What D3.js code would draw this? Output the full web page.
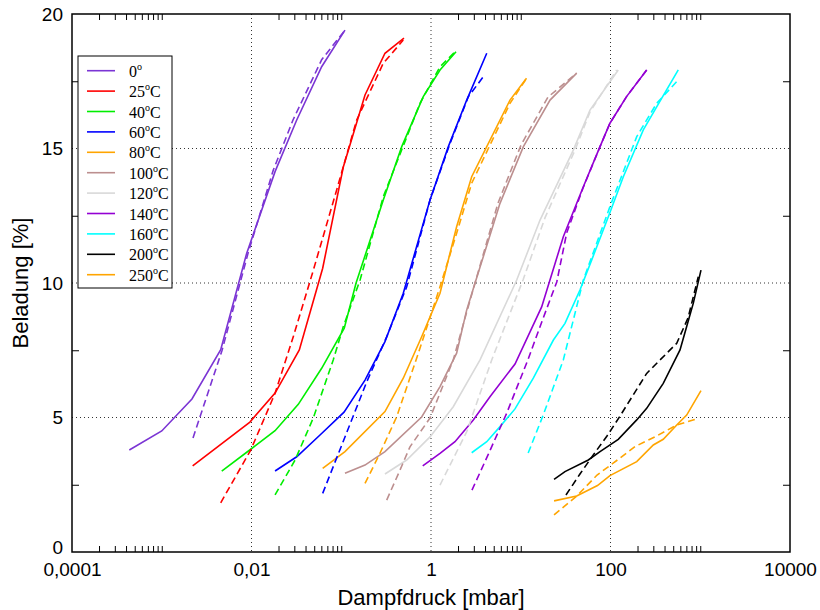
<!DOCTYPE html>
<meta charset="utf-8">
<script src="https://d3js.org/d3.v7.min.js"></script>
<style>
body { margin: 0; background: #fff; }
</style>
<div id="chart"></div>
<script>

// legend labels and colours
var temps = ["0", "25", "40", "60", "80", "100", "120", "140", "160", "200", "250"];
var colors = ["#7b35d4", "#ff0000", "#00ee00", "#0000ff", "#ffa500", "#bc8f8f",
              "#d9d9d9", "#9400d3", "#00ffff", "#000000", "#ffa500"];

// solid curves: [pressure mbar, loading %]
var s0   = [[0.000435,3.79],[0.001,4.5],[0.00217,5.69],[0.00454,7.52],[0.00883,11.1],[0.0183,14.14],[0.0319,16.06],[0.0605,18.04],[0.11,19.4]];
var s25  = [[0.00221,3.2],[0.0096,4.83],[0.0183,5.91],[0.0341,7.51],[0.0621,10.55],[0.1054,14.31],[0.184,16.99],[0.307,18.54],[0.5,19.1]];
var s40  = [[0.00466,3.01],[0.0098,3.82],[0.0183,4.51],[0.0332,5.49],[0.0605,6.83],[0.108,8.32],[0.146,9.99],[0.294,13.09],[0.472,15.07],[0.82,16.93],[1.26,17.92],[1.9,18.6]];
var s60  = [[0.0183,3.01],[0.0319,3.54],[0.058,4.35],[0.1074,5.2],[0.184,6.39],[0.307,7.82],[0.491,9.62],[0.975,13.09],[1.56,15.07],[2.5,16.8],[4.18,18.54]];
var s80  = [[0.0621,3.11],[0.11,3.73],[0.307,5.22],[0.491,6.46],[0.787,8.0],[1.26,9.62],[1.93,12.09],[2.84,13.95],[4.18,15.07],[7.59,16.8],[11.6,17.61]];
var s100 = [[0.11,2.93],[0.184,3.23],[0.307,3.73],[0.787,5.02],[1.26,6.15],[1.93,7.39],[2.5,9.0],[3.09,9.99],[5.87,12.96],[10.7,15.07],[21.2,16.8],[42.0,17.8]];
var s120 = [[0.307,2.9],[0.536,3.42],[0.975,4.28],[1.77,5.4],[3.52,7.14],[9.02,10.11],[16.4,12.34],[38.5,14.94],[59.1,16.43],[122,17.92]];
var s140 = [[0.809,3.2],[1.26,3.67],[1.85,4.1],[2.96,4.91],[4.54,5.77],[8.63,6.99],[17.1,9.11],[29.8,11.72],[49.8,13.58],[76.4,15.07],[98.6,15.94],[151,16.93],[253,17.92]];
var s160 = [[2.84,3.69],[4.18,4.1],[5.87,4.66],[8.63,5.32],[13.8,6.46],[23.1,7.88],[31.1,8.5],[45.7,9.74],[61.8,10.86],[94.6,12.46],[139,13.95],[232,15.69],[327,16.55],[569,17.92]];
var s200 = [[23.5,2.7],[31.1,2.99],[56.6,3.42],[76.4,3.73],[122,4.19],[196,4.91],[253,5.34],[387,6.27],[595,7.51],[706,8.38],[837,9.25],[1019,10.48]];
var s250 = [[23.5,1.9],[42.0,2.08],[71.6,2.47],[98.6,2.84],[196,3.36],[300,3.98],[387,4.19],[547,4.72],[706,5.09],[1019,6.0]];

// dashed curves
var d0   = [[0.00223,4.24],[0.0047,7.5],[0.00914,11.1],[0.0175,14.2],[0.029,16.06],[0.0605,18.3],[0.11,19.4]];
var d25  = [[0.00454,1.83],[0.0098,3.79],[0.0183,5.9],[0.0292,8.0],[0.0489,10.48],[0.0889,13.46],[0.1486,16.06],[0.294,18.17],[0.491,19.03]];
var d40  = [[0.0183,2.12],[0.0306,3.42],[0.0489,4.99],[0.0814,7.14],[0.1054,8.38],[0.162,10.11],[0.294,13.21],[0.754,16.68],[1.26,18.04],[1.86,18.6]];
var d60  = [[0.0621,2.18],[0.192,6.32],[0.321,8.0],[0.536,9.86],[0.975,13.09],[1.63,15.19],[2.61,16.93],[3.83,17.67]];
var d80  = [[0.184,2.55],[0.27,3.67],[0.415,5.03],[0.723,7.39],[1.26,9.86],[1.93,11.85],[2.84,13.71],[7.59,16.68],[11.6,17.61]];
var d100 = [[0.321,1.93],[0.452,3.05],[0.583,3.91],[0.975,4.98],[1.26,5.91],[1.77,7.14],[2.5,8.92],[3.09,9.99],[5.58,12.97],[10.07,15.13],[20.1,16.91],[42.0,17.8]];
var d120 = [[1.26,2.49],[2.5,4.47],[4.75,7.14],[10.6,10.11],[18.6,12.42],[40.2,14.94],[59.1,16.36],[117,17.92]];
var d140 = [[2.86,2.3],[4.32,3.61],[6.97,5.16],[12.0,7.14],[17.8,8.7],[25.2,10.04],[32.5,11.86],[49.4,13.53],[76.4,15.07],[98.6,15.94],[151,16.93],[253,17.92]];
var d160 = [[12.1,3.68],[17.8,5.09],[29.8,7.14],[49.8,10.11],[98.6,12.84],[196,15.44],[327,16.68],[569,17.55]];
var d200 = [[31.9,2.12],[45.7,2.9],[64.3,3.61],[91.4,4.31],[128,5.06],[253,6.64],[547,7.76],[731,8.7],[951,10.23]];
var d250 = [[23.5,1.38],[42.0,2.08],[70.8,2.86],[107,3.3],[188,3.92],[313,4.28],[547,4.72],[951,4.97]];

var solidSeries = [s0, s25, s40, s60, s80, s100, s120, s140, s160, s200, s250];
var dashedSeries = [d0, d25, d40, d60, d80, d100, d120, d140, d160, d200, d250];

// axis ticks
var xLabelTicks = [0.0001, 0.01, 1, 100, 10000];
var xGridTicks = [0.01, 1, 100];
var yLabelTicks = [0, 5, 10, 15, 20];
var yGridTicks = [5, 10, 15];
var yMinorTicks = [2.5, 7.5, 12.5, 17.5];

var margin = {top: 14, right: 30, bottom: 58, left: 72},
    width = 820 - margin.left - margin.right,
    height = 610 - margin.top - margin.bottom;

var svg = d3.select("#chart")
  .append("svg")
    .attr("width", 820)
    .attr("height", 610)
  .append("g")
    .attr("transform", "translate(" + margin.left + "," + margin.top + ")");

var x = d3.scaleLog()
  .domain([0.0001, 10000])
  .range([0, width]);

var y = d3.scaleLinear()
  .domain([0, 20])
  .range([height, 0]);

// minor log ticks, only in every other decade like the original
var xMinor = [];
[0.0001, 0.01, 1, 100].forEach(function(b) {
  for (var k = 2; k <= 10; k++) xMinor.push(b * k);
});

// dotted grid
svg.append("g").selectAll("line.gx")
  .data(xGridTicks).enter().append("line")
    .attr("x1", function(d) { return x(d); })
    .attr("x2", function(d) { return x(d); })
    .attr("y1", 0).attr("y2", height)
    .attr("stroke", "#333").attr("stroke-width", 1)
    .attr("stroke-dasharray", "1,3");
svg.append("g").selectAll("line.gy")
  .data(yGridTicks).enter().append("line")
    .attr("y1", function(d) { return y(d); })
    .attr("y2", function(d) { return y(d); })
    .attr("x1", 0).attr("x2", width)
    .attr("stroke", "#333").attr("stroke-width", 1)
    .attr("stroke-dasharray", "1,3");

// minor ticks (inside)
function noDomain(g) { g.select(".domain").remove(); }
svg.append("g")
  .attr("transform", "translate(0," + height + ")")
  .call(d3.axisBottom(x).tickValues(xMinor).tickSize(-6).tickFormat(""))
  .call(noDomain);
svg.append("g")
  .call(d3.axisTop(x).tickValues(xMinor).tickSize(-6).tickFormat(""))
  .call(noDomain);
svg.append("g")
  .call(d3.axisLeft(y).tickValues(yMinorTicks).tickSize(-7).tickFormat(""))
  .call(noDomain);
svg.append("g")
  .attr("transform", "translate(" + width + ",0)")
  .call(d3.axisRight(y).tickValues(yMinorTicks).tickSize(-7).tickFormat(""))
  .call(noDomain);

// tick labels
var fmt = function(d) { return String(d).replace(".", ","); };
var xAxis = svg.append("g")
  .attr("transform", "translate(0," + height + ")")
  .call(d3.axisBottom(x).tickValues(xLabelTicks).tickSize(0).tickPadding(11).tickFormat(fmt))
  .call(noDomain);
xAxis.selectAll("text")
  .style("font-family", "Liberation Sans, Arial, sans-serif")
  .style("font-size", "19px")
  .attr("fill", "#000");

var yAxis = svg.append("g")
  .call(d3.axisLeft(y).tickValues(yLabelTicks).tickSize(0).tickPadding(9))
  .call(noDomain);
yAxis.selectAll("text")
  .style("font-family", "Liberation Sans, Arial, sans-serif")
  .style("font-size", "19px")
  .attr("fill", "#000");
// lift the "0" a bit so it clears the "0,0001" label
yAxis.selectAll("text").filter(function(d) { return d === 0; })
  .attr("dy", "0.1em");

// curves
var line = d3.line()
  .x(function(d) { return x(d[0]); })
  .y(function(d) { return y(d[1]); });

solidSeries.forEach(function(s, i) {
  svg.append("path")
    .datum(s)
    .attr("d", line)
    .attr("fill", "none")
    .attr("stroke", colors[i])
    .attr("stroke-width", 1.6);
});
dashedSeries.forEach(function(s, i) {
  svg.append("path")
    .datum(s)
    .attr("d", line)
    .attr("fill", "none")
    .attr("stroke", colors[i])
    .attr("stroke-width", 1.6)
    .attr("stroke-dasharray", "7,4");
});

// legend
var legend = svg.append("g")
  .attr("transform", "translate(6,42)");
legend.append("rect")
  .attr("width", 94).attr("height", 232)
  .attr("fill", "#fff").attr("stroke", "#000").attr("stroke-width", 1);
var rows = legend.selectAll("g.row")
  .data(temps).enter().append("g")
    .attr("transform", function(d, i) { return "translate(0," + (14.7 + i * 20.4) + ")"; });
rows.append("line")
  .attr("x1", 9).attr("x2", 37)
  .attr("stroke", function(d, i) { return colors[i]; })
  .attr("stroke-width", 1.6);
var lt = rows.append("text")
  .attr("x", 51).attr("y", 6)
  .style("font-family", "Liberation Serif, Times New Roman, serif")
  .style("font-size", "16px");
lt.append("tspan").text(function(d) { return d; });
lt.append("tspan").attr("dy", -7).style("font-size", "10px").text("o");
lt.append("tspan").attr("dy", 7).text(function(d) { return d === "0" ? "" : "C"; });

// frame
svg.append("rect")
  .attr("width", width).attr("height", height)
  .attr("fill", "none").attr("stroke", "#000").attr("stroke-width", 1.5);

// axis titles
svg.append("text")
  .attr("x", width / 2)
  .attr("y", height + 53)
  .style("text-anchor", "middle")
  .style("font-family", "Liberation Sans, Arial, sans-serif")
  .style("font-size", "22px")
  .text("Dampfdruck [mbar]");

svg.append("text")
  .attr("transform", "rotate(-90)")
  .attr("x", -height / 2)
  .attr("y", -margin.left + 28)
  .style("text-anchor", "middle")
  .style("font-family", "Liberation Sans, Arial, sans-serif")
  .style("font-size", "22px")
  .text("Beladung [%]");

</script>
